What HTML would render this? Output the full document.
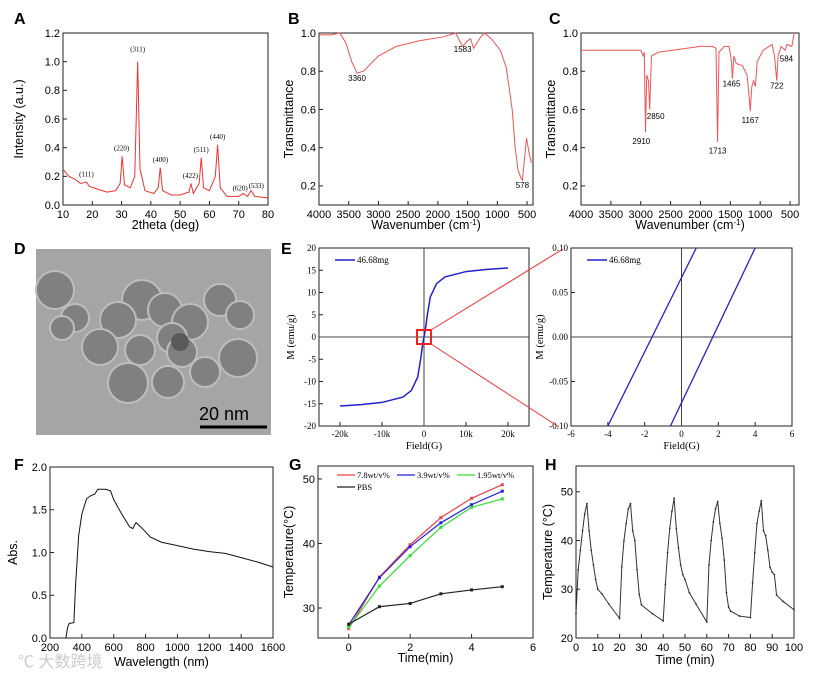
<!DOCTYPE html>
<html><head><meta charset="utf-8"><style>
html,body{margin:0;padding:0;background:#fff;}
svg{display:block;font-family:"Liberation Sans",Arial,sans-serif;}
.serif{font-family:"Liberation Serif","Times New Roman",serif;}
</style></head><body>
<svg id="fig" width="831" height="680" viewBox="0 0 831 680" xmlns="http://www.w3.org/2000/svg">
<text x="14" y="24" font-size="16" font-weight="bold">A</text>
<text x="288" y="24" font-size="16" font-weight="bold">B</text>
<text x="549" y="24" font-size="16" font-weight="bold">C</text>
<text x="14" y="254" font-size="16" font-weight="bold">D</text>
<text x="281" y="254" font-size="16" font-weight="bold">E</text>
<text x="14" y="470" font-size="16" font-weight="bold">F</text>
<text x="289" y="470" font-size="16" font-weight="bold">G</text>
<text x="545" y="470" font-size="16" font-weight="bold">H</text>
<g>
<rect x="36" y="249" width="235" height="186" fill="#a5a5a5"/>
<g fill="#808080" stroke="#bdbdbd" stroke-width="2">
<circle cx="55" cy="290" r="19"/><circle cx="75" cy="318" r="14"/><circle cx="62" cy="328" r="12"/>
<circle cx="142" cy="300" r="20"/><circle cx="118" cy="320" r="18"/><circle cx="165" cy="310" r="17"/>
<circle cx="190" cy="322" r="18"/><circle cx="220" cy="300" r="16"/><circle cx="240" cy="315" r="14"/>
<circle cx="238" cy="358" r="19"/><circle cx="100" cy="347" r="18"/><circle cx="140" cy="350" r="15"/>
<circle cx="172" cy="338" r="15"/><circle cx="182" cy="352" r="15"/><circle cx="128" cy="383" r="20"/>
<circle cx="168" cy="382" r="16"/><circle cx="205" cy="372" r="15"/>
</g>
<circle cx="180" cy="342" r="9" fill="#5a5a5a"/>
<line x1="200" y1="427" x2="267" y2="427" stroke="#000" stroke-width="3"/>
<text x="199" y="420" font-size="18">20 nm</text>
</g>
<text x="18" y="667" font-size="16" fill="#ccc" font-family="'Liberation Sans','Noto Sans CJK SC',sans-serif">℃ 大数跨境</text>
</svg>
<script>
// ---- data ----
const xrdX=[10,12,14,16,18,19,22,25,28,29.5,30.2,31,33,34.5,35.5,36.3,38,41,42.5,43.2,44,47,50,53,53.7,54.5,56.5,57.2,58,60,62,62.8,63.7,66,70,71.5,73,74.2,75.5,80];
const xrdY=[0.25,0.2,0.18,0.15,0.16,0.13,0.11,0.09,0.1,0.15,0.34,0.14,0.12,0.2,1.0,0.25,0.1,0.08,0.12,0.26,0.1,0.07,0.07,0.09,0.15,0.08,0.15,0.33,0.12,0.1,0.2,0.42,0.12,0.06,0.06,0.08,0.06,0.1,0.06,0.05];
const xrdLabels=["(111)","(220)","(311)","(400)","(422)","(511)","(440)","(620)","(533)"];
const xrdLabX=[18,30,35.5,43.3,53.5,57.2,62.8,70.5,76];
const xrdLabY=[0.2,0.38,1.07,0.3,0.19,0.37,0.46,0.1,0.12];
const ftirBX=[4000,3800,3650,3550,3450,3360,3250,3000,2700,2300,1900,1700,1620,1583,1500,1450,1400,1300,1220,1100,950,850,750,700,650,600,578,540,510,470,430];
const ftirBY=[0.99,0.99,1.0,0.95,0.85,0.79,0.8,0.88,0.93,0.96,0.98,1.0,0.95,0.93,0.96,0.97,0.92,0.97,1.0,0.97,0.91,0.82,0.6,0.4,0.28,0.24,0.23,0.35,0.45,0.38,0.32];
const ftirBLab=["3360","1583","578"];const ftirBLabX=[3360,1583,578];const ftirBLabY=[0.75,0.9,0.19];
const ftirCX=[4000,3100,3000,2960,2940,2920,2900,2870,2850,2820,2700,2000,1800,1740,1713,1690,1600,1520,1480,1465,1440,1400,1300,1220,1180,1167,1140,1110,1080,1050,950,800,760,722,700,650,584,550,470,430];
const ftirCY=[0.91,0.91,0.91,0.88,0.9,0.48,0.78,0.75,0.6,0.88,0.9,0.93,0.93,0.92,0.43,0.9,0.93,0.93,0.85,0.76,0.88,0.84,0.83,0.78,0.65,0.59,0.72,0.75,0.72,0.85,0.91,0.94,0.88,0.75,0.88,0.93,0.91,0.94,0.93,1.0];
const ftirCLab=["2910","2850","1713","1465","1167","722","584"];
const ftirCLabX=[2990,2750,1713,1480,1167,722,560];const ftirCLabY=[0.42,0.55,0.37,0.72,0.53,0.71,0.85];
const magH=[-20000,-15000,-10000,-5000,-3000,-1500,-800,-300,0,300,800,1500,3000,5000,10000,15000,20000];
const magM=[-15.5,-15.2,-14.7,-13.5,-12,-9,-5,-1.5,0,1.5,5,9,12,13.5,14.7,15.2,15.5];
const zoomA_H=[-4,0.8];const zoomA_M=[-0.1,0.1];
const zoomB_H=[-0.6,4];const zoomB_M=[-0.1,0.1];
const uvX=[300,310,320,350,360,380,400,430,460,480,500,550,580,600,650,700,720,740,780,830,900,1000,1100,1200,1300,1400,1500,1600];
const uvY=[0,0.12,0.17,0.18,0.6,1.2,1.45,1.63,1.67,1.68,1.74,1.74,1.72,1.62,1.45,1.3,1.28,1.35,1.28,1.18,1.12,1.08,1.04,1.01,0.99,0.94,0.89,0.83];
const gTime=[0,1,2,3,4,5];
const gRed=[26.8,34.8,39.8,44,47,49.1];
const gBlue=[27.4,34.7,39.5,43.2,46,48.1];
const gGreen=[27.0,33.4,38.1,42.5,45.6,46.9];
const gPBS=[27.5,30.2,30.7,32.2,32.8,33.3];
const hT=[0,1,2,3,4,5,6,7,8,9,10,12,15,20,21,22,23,24,25,26,27,28,29,30,35,40,41,42,43,44,45,46,47,48,49,50,52,55,60,61,62,63,64,65,66,67,68,69,70,71,75,80,81,82,83,84,85,86,87,88,89,90,91,92,95,100];
const hY=[25,34,38,42,45.5,47.6,42,38,35,32,30,29,27,24,34.6,40,43.5,46.5,47.6,42,40,34,29,26.8,25,23.5,31,37.5,42.5,46,48.7,42.5,38.5,35,33,32,29.3,27,23.3,35,40,43.8,46.5,48,43.5,40.5,36,29.3,26.3,25.5,24.5,24.2,31.3,37.5,43.5,46,48.2,42,41,38,34.5,33.5,33,28.8,27.5,25.8];

const NS="http://www.w3.org/2000/svg";
const svg=document.getElementById('fig');
function el(tag,parent){const e=document.createElementNS(NS,tag);(parent||svg).appendChild(e);return e;}
function scale(d0,d1,r0,r1){return v=>r0+(v-d0)/(d1-d0)*(r1-r0);}
function txt(p,x,y,s,size,anchor,cls){const t=el('text',p);t.setAttribute('x',x);t.setAttribute('y',y);t.setAttribute('font-size',size);t.setAttribute('text-anchor',anchor||'middle');if(cls)t.setAttribute('class',cls);t.textContent=s;return t;}
function panel(name,box,xd,yd,xt,yt,fx,fy,fs,cls,xtitle,ytitle,ytx,xty){
  const g=el('g');
  
  
  const sx=scale(xd[0],xd[1],box[0],box[2]),sy=scale(yd[0],yd[1],box[3],box[1]);
  const r=el('rect',g);r.setAttribute('x',box[0]);r.setAttribute('y',box[1]);r.setAttribute('width',box[2]-box[0]);r.setAttribute('height',box[3]-box[1]);r.setAttribute('fill','none');r.setAttribute('stroke','#222');
  const xa=el('g',g);
  
  
  xt.forEach(v=>{const l=el('line',xa);l.setAttribute('x1',sx(v));l.setAttribute('x2',sx(v));l.setAttribute('y1',box[3]);l.setAttribute('y2',box[3]-4);l.setAttribute('stroke','#222');
    txt(xa,sx(v),box[3]+fs+2,fx(v),fs,'middle',cls);});
  const ya=el('g',g);
  
  
  yt.forEach(v=>{const l=el('line',ya);l.setAttribute('x1',box[0]);l.setAttribute('x2',box[0]+4);l.setAttribute('y1',sy(v));l.setAttribute('y2',sy(v));l.setAttribute('stroke','#222');
    txt(ya,box[0]-3,sy(v)+fs*0.35,fy(v),fs,'end',cls);});
  const xtl=txt(g,(box[0]+box[2])/2,xty,'',fs+1.5,'middle',cls);xtl.innerHTML=xtitle;
  
  
  const ytl=txt(g,ytx,(box[1]+box[3])/2,'',fs+1.5,'middle',cls);ytl.innerHTML=ytitle;ytl.setAttribute('transform',`rotate(-90 ${ytx} ${(box[1]+box[3])/2})`);
  
  
  return {g,sx,sy};
}
function line(P,xs,ys,color,w,name){const p=el('polyline',P.g);p.setAttribute('points',xs.map((x,i)=>P.sx(x)+','+P.sy(ys[i])).join(' '));p.setAttribute('fill','none');p.setAttribute('stroke',color);p.setAttribute('stroke-width',w||1);
  
  
  return p;}
function rng(a,b,s){const r=[];for(let v=a;v<=b+1e-9;v+=s)r.push(+v.toFixed(4));return r;}
const f1=v=>v.toFixed(1),f0=v=>String(v);

// A
const A=panel('panel-a-xrd',[63,33,268,205],[10,80],[0,1.2],rng(10,80,10),rng(0,1.2,0.2),f0,f1,11,'','2theta (deg)','Intensity (a.u.)',23,229);
line(A,xrdX,xrdY,'#e33',1,'xrd-line');
xrdLabels.forEach((s,i)=>{const t=txt(A.g,A.sx(xrdLabX[i]),A.sy(xrdLabY[i]),s,7,'middle','serif');
  
  });
// B
const B=panel('panel-b-ftir',[319,33,533,205],[4000,400],[0.1,1.0],rng(500,4000,500),rng(0.2,1.0,0.2),f0,f1,11,'','Wavenumber (cm<tspan dy="-4" font-size="8">-1</tspan><tspan dy="4">)</tspan>','Transmittance',293,229);
line(B,ftirBX,ftirBY,'#e55',1,'ftir-b-line');
ftirBLab.forEach((s,i)=>{const t=txt(B.g,B.sx(ftirBLabX[i]),B.sy(ftirBLabY[i]),s,8,'middle');
  
  });
// C
const C=panel('panel-c-ftir',[581,33,799,205],[4000,350],[0.1,1.0],rng(500,4000,500),rng(0.2,1.0,0.2),f0,f1,11,'','Wavenumber (cm<tspan dy="-4" font-size="8">-1</tspan><tspan dy="4">)</tspan>','Transmittance',555,229);
line(C,ftirCX,ftirCY,'#e55',1,'ftir-c-line');
ftirCLab.forEach((s,i)=>{const t=txt(C.g,C.sx(ftirCLabX[i]),C.sy(ftirCLabY[i]),s,8,'middle');
  
  });
// E left
const fk=v=>v===0?'0':(v/1000)+'k';
const E1=panel('panel-e-hysteresis',[319,248,529,426],[-25000,25000],[-20,20],rng(-20000,20000,10000),rng(-20,20,5),fk,f0,9,'serif','Field(G)','M (emu/g)',294,449);
[[E1.sx(0),248,E1.sx(0),426],[319,E1.sy(0),529,E1.sy(0)]].forEach(c=>{const l=el('line',E1.g);l.setAttribute('x1',c[0]);l.setAttribute('y1',c[1]);l.setAttribute('x2',c[2]);l.setAttribute('y2',c[3]);l.setAttribute('stroke','#444');});
line(E1,magH,magM,'#22c',1.5,'hysteresis-curve');
// E right
const E2=panel('panel-e-zoom',[571,248,792,426],[-6,6],[-0.1,0.1],rng(-6,6,2),rng(-0.1,0.1,0.05),f0,v=>v.toFixed(2),9,'serif','Field(G)','M (emu/g)',543,449);
[[E2.sx(0),248,E2.sx(0),426],[571,E2.sy(0),792,E2.sy(0)]].forEach(c=>{const l=el('line',E2.g);l.setAttribute('x1',c[0]);l.setAttribute('y1',c[1]);l.setAttribute('x2',c[2]);l.setAttribute('y2',c[3]);l.setAttribute('stroke','#444');});
line(E2,zoomA_H,zoomA_M,'#22c',1.3,'descending-branch');
line(E2,zoomB_H,zoomB_M,'#22c',1.3,'ascending-branch');
[[E1,335,260],[E2,587,260]].forEach(a=>{const l=el('line',a[0].g);l.setAttribute('x1',a[1]);l.setAttribute('x2',a[1]+20);l.setAttribute('y1',a[2]);l.setAttribute('y2',a[2]);l.setAttribute('stroke','#22c');l.setAttribute('stroke-width',1.5);
  const t=txt(a[0].g,a[1]+22,a[2]+3,'46.68mg',9,'start','serif');
  
  });
const zr=el('rect');zr.setAttribute('x',E1.sx(0)-7);zr.setAttribute('y',E1.sy(0)-7);zr.setAttribute('width',14);zr.setAttribute('height',14);zr.setAttribute('fill','none');zr.setAttribute('stroke','#e22');zr.setAttribute('stroke-width',2);


[[E1.sx(0)+7,E1.sy(0)-7,563,249],[E1.sx(0)+7,E1.sy(0)+7,559,427]].forEach(c=>{const l=el('line');l.setAttribute('x1',c[0]);l.setAttribute('y1',c[1]);l.setAttribute('x2',c[2]);l.setAttribute('y2',c[3]);l.setAttribute('stroke','#e33');
  
  });
// F
const F=panel('panel-f-uv',[50,467,273,638],[200,1600],[0,2],rng(200,1600,200),rng(0,2,0.5),f0,f1,11,'','Wavelength (nm)','Abs.',17,666);
line(F,uvX,uvY,'#111',1,'absorbance-line');
// G
const G=panel('panel-g-heating',[318,466,533,638],[-1,6],[25.35,52],rng(0,6,2),[30,40,50],f0,f0,11,'','Time(min)','Temperature(°C)',293,662);
const series=[[gRed,'#e44','7.8wt/v%'],[gBlue,'#22d','3.9wt/v%'],[gGreen,'#3d3','1.95wt/v%'],[gPBS,'#222','PBS']];
series.forEach((s,k)=>{line(G,gTime,s[0],s[1],1.2,'series-line');
  gTime.forEach((t,i)=>{const c=el('rect',G.g);c.setAttribute('x',G.sx(t)-1.5);c.setAttribute('y',G.sy(s[0][i])-1.5);c.setAttribute('width',3);c.setAttribute('height',3);c.setAttribute('fill',s[1]);});
  const lx=337+(k%3)*60,ly=475+Math.floor(k/3)*12;
  const l=el('line',G.g);l.setAttribute('x1',lx);l.setAttribute('x2',lx+18);l.setAttribute('y1',ly);l.setAttribute('y2',ly);l.setAttribute('stroke',s[1]);l.setAttribute('stroke-width',1.3);
  const t=txt(G.g,lx+20,ly+3,s[2],8.5,'start','serif');
  
  });
// H
const H=panel('panel-h-cycles',[576,466,794,638],[0,100],[20,55.3],rng(0,100,10),rng(20,50,10),f0,f0,11,'','Time (min)','Temperature (°C)',552,664);
line(H,hT,hY,'#333',1,'cycle-line');
hT.forEach((t,i)=>{const c=el('circle',H.g);c.setAttribute('cx',H.sx(t));c.setAttribute('cy',H.sy(hY[i]));c.setAttribute('r',0.9);c.setAttribute('fill','#333');});
</script>
</body></html>
